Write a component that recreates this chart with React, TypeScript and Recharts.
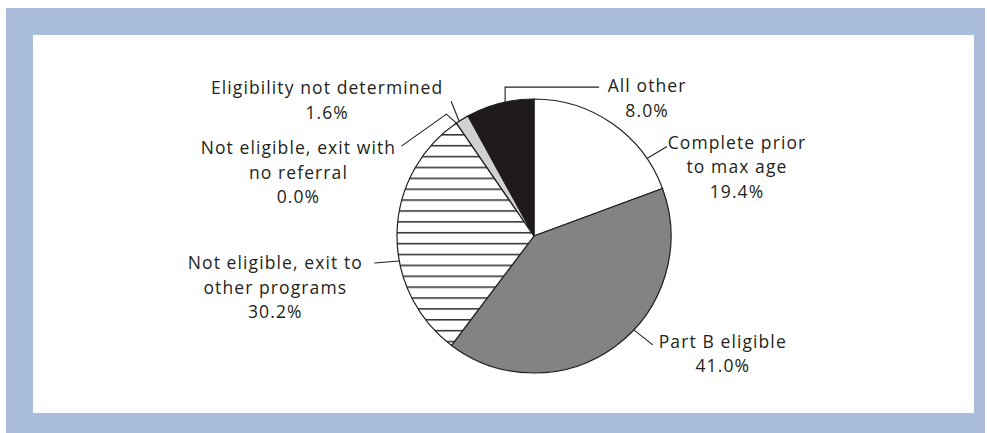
import React from "react";
import { PieChart, Pie, Cell } from "recharts";

const categories = [
  "Complete prior to max age",
  "Part B eligible",
  "Not eligible, exit to other programs",
  "Not eligible, exit with no referral",
  "Eligibility not determined",
  "All other",
];
const labelLines = [
  ["Complete prior", "to max age"],
  ["Part B eligible"],
  ["Not eligible, exit to", "other programs"],
  ["Not eligible, exit with", "no referral"],
  ["Eligibility not determined"],
  ["All other"],
];
const values = [19.4, 41.0, 30.2, 0.0, 1.6, 8.0];

const fills = ["#ffffff", "#838383", "url(#hstripes)", "#ffffff", "#d1d1d1", "#1f1b1c"];

// leader layout, relative to each slice's rim point
const leaderLayout = [
  { delta: 20.7, path: [[20, -12]], text: [70, 2] },
  { delta: -10.1, path: [[19, 15]], text: [70, 3] },
  { delta: -11.8, path: [[-25, 2]], text: [-99, 6] },
  { delta: 0, path: [[-10, -9], [-45, 32]], text: [-103, 8] },
  { delta: -1.5, path: [[-8, -20]], text: [-124, -7] },
  { delta: 2.2, path: [[0, -15], [94, 0]], text: [48, 5] },
];

const data = categories.map((name, i) => ({ name, value: values[i] }));

const TEXT_COLOR = "#231f20";
const FONT = "'Open Sans', sans-serif";
const LINE_H = 24.5;

const renderLabel = (props: any) => {
  const { cx, cy, midAngle, outerRadius, index, value } = props;
  const lay = leaderLayout[index];
  const a = ((midAngle - lay.delta) * Math.PI) / 180;
  const x0 = cx + outerRadius * Math.cos(a);
  const y0 = cy - outerRadius * Math.sin(a);
  const pts: number[][] = [[x0, y0]];
  let px = x0;
  let py = y0;
  lay.path.forEach(([dx, dy]) => {
    px += dx;
    py += dy;
    pts.push([px, py]);
  });
  const tx = px + lay.text[0];
  const ty = py + lay.text[1];
  const lines = [...labelLines[index], `${Number(value).toFixed(1)}%`];
  return (
    <g key={`lab-${index}`}>
      <polyline
        points={pts.map((p) => p.join(",")).join(" ")}
        fill="none"
        stroke={TEXT_COLOR}
        strokeWidth={1.1}
      />
      <text
        x={tx}
        y={ty}
        textAnchor="middle"
        fill={TEXT_COLOR}
        fontFamily={FONT}
        fontSize={17.5}
        letterSpacing={1.1}
      >
        {lines.map((ln, k) => (
          <tspan key={k} x={tx} y={ty + k * LINE_H}>
            {ln}
          </tspan>
        ))}
      </text>
    </g>
  );
};

export default function App() {
  return (
    <div
      style={{
        position: "absolute",
        left: 6,
        top: 8,
        width: 979,
        height: 425,
        background: "#a9bcdc",
      }}
    >
      <div
        style={{
          position: "absolute",
          left: 27,
          top: 27,
          width: 941,
          height: 378,
          background: "#ffffff",
        }}
      >
        <PieChart width={941} height={378} margin={{ top: 0, right: 0, bottom: 0, left: 0 }}>
          <defs>
            <pattern
              id="hstripes"
              patternUnits="userSpaceOnUse"
              width={20}
              height={10.88}
              y={1.1}
            >
              <rect x={0} y={0} width={20} height={10.88} fill="#ffffff" />
              <line x1={0} y1={0.8} x2={20} y2={0.8} stroke="#2a2a2a" strokeWidth={1.5} />
            </pattern>
          </defs>
          <Pie
            data={data}
            dataKey="value"
            nameKey="name"
            cx={501}
            cy={201}
            outerRadius={137}
            startAngle={90}
            endAngle={-270}
            stroke="#231f20"
            strokeWidth={1.2}
            label={renderLabel}
            labelLine={false}
            isAnimationActive={false}
          >
            {data.map((d, i) => (
              <Cell key={d.name} fill={fills[i]} />
            ))}
          </Pie>
        </PieChart>
      </div>
    </div>
  );
}
